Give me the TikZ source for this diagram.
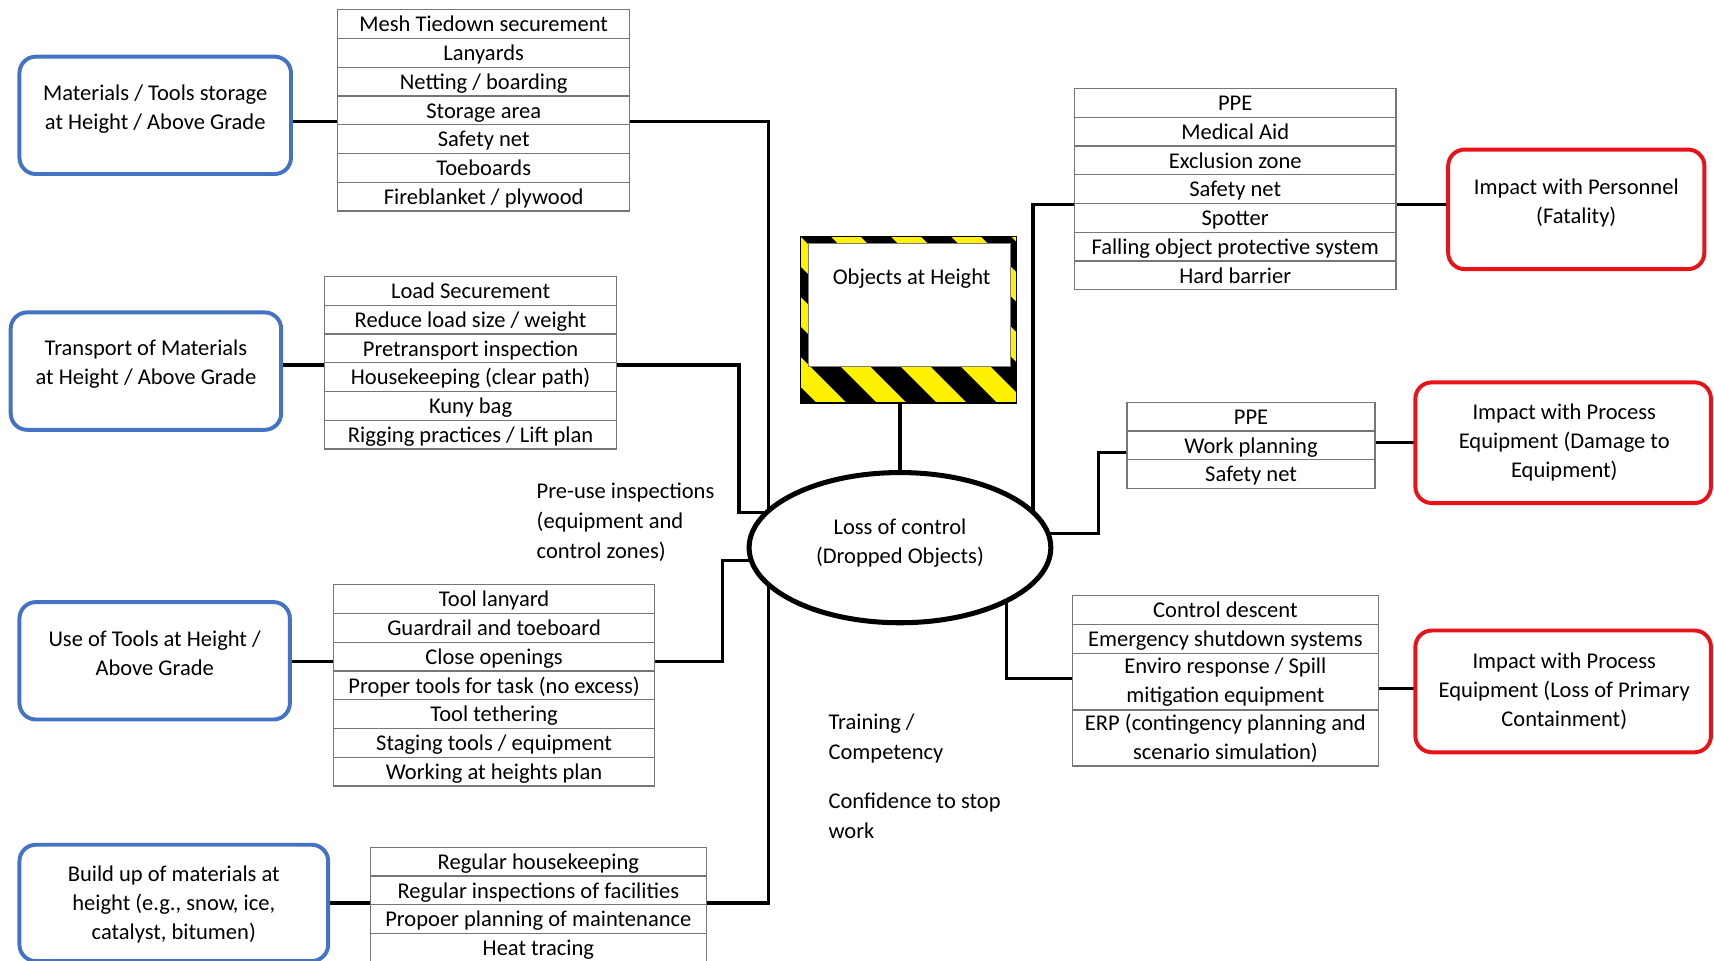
\documentclass[tikz,border=0pt]{standalone}
\usepackage{fontspec}
\setmainfont{Carlito}
\usetikzlibrary{shapes.geometric,backgrounds,fit}

\definecolor{boxblue}{RGB}{68,114,196}
\definecolor{boxred}{RGB}{232,18,24}
\definecolor{hazyellow}{RGB}{255,242,0}
\definecolor{cellgray}{RGB}{118,118,118}

% A column of equal-height control cells: name, left x, top y, width, entries
\newcommand\rowstack[5]{%
  \foreach \txt [count=\i] in {#5} {%
    \node[row, minimum width=#4, anchor=north west] (#1-\i) at (#2, {#3+(\i-1)*26.3}) {\txt};
    \xdef\lastrow{\i}%
  }%
  \node[fit=(#1-1)(#1-\lastrow)] (#1) {};%
}

\begin{document}
\begin{tikzpicture}[x=0.5pt, y=-0.5pt,
  every node/.style={font=\fontsize{10.3}{13.25}\selectfont, inner sep=0pt, outer sep=0pt},
  cell/.style={draw=cellgray, line width=0.6pt, fill=white, align=center, minimum height=13.15pt},
  row/.style={cell, text height=8.3pt, text depth=1.2pt},
  causebox/.style={draw=boxblue, line width=1.8pt, rounded corners=7.5pt},
  effectbox/.style={draw=boxred, line width=1.8pt, rounded corners=7.5pt},
  boxtext/.style={align=center},
  note/.style={align=left, anchor=west, font=\fontsize{10.3}{13.7}\selectfont},
  conn/.style={line width=1.5pt},
]
\useasboundingbox (0,0) rectangle (1568,879);

% ---- causes (left) ----
\node[causebox, minimum width=124.2pt, minimum height=53.7pt] (b1) at (142,105.5) {};
\node[boxtext] (b1-text) at (142,99.5) {Materials / Tools storage\\at Height / Above Grade};
\node[causebox, minimum width=123.7pt, minimum height=53.7pt] (b2) at (133.5,339.5) {};
\node[boxtext] (b2-text) at (133.5,333.5) {Transport of Materials\\at Height / Above Grade};
\node[causebox, minimum width=123.7pt, minimum height=53.7pt] (b3) at (141.5,604.5) {};
\node[boxtext] (b3-text) at (141.5,598) {Use of Tools at Height /\\Above Grade};
\node[causebox, minimum width=141.2pt, minimum height=53.2pt] (b4) at (159,826) {};
\node[boxtext] (b4-text) at (159,827.5) {Build up of materials at\\height (e.g., snow, ice,\\catalyst, bitumen)};

% ---- consequences (right) ----
\node[effectbox, minimum width=117.2pt, minimum height=54.7pt] (r1) at (1442,191.5) {};
\node[boxtext] (r1-text) at (1442,186) {Impact with Personnel\\(Fatality)};
\node[effectbox, minimum width=135.2pt, minimum height=55.2pt] (r2) at (1430,405) {};
\node[boxtext] (r2-text) at (1431,404.5) {Impact with Process\\Equipment (Damage to\\Equipment)};
\node[effectbox, minimum width=135.2pt, minimum height=55.7pt] (r3) at (1430,632.5) {};
\node[boxtext] (r3-text) at (1431,632.5) {Impact with Process\\Equipment (Loss of Primary\\Containment)};

% ---- preventive barriers ----
\rowstack{t1}{309}{9}{133.5pt}{Mesh Tiedown securement,Lanyards,Netting / boarding,Storage area,Safety net,Toeboards,Fireblanket / plywood}
\rowstack{t2}{297}{253}{133.5pt}{Load Securement,Reduce load size / weight,Pretransport inspection,Housekeeping (clear path),Kuny bag,Rigging practices / Lift plan}
\rowstack{t3}{305}{535}{147pt}{Tool lanyard,Guardrail and toeboard,Close openings,Proper tools for task (no excess),Tool tethering,Staging tools / equipment,Working at heights plan}
\rowstack{t4}{339}{775}{153.5pt}{Regular housekeeping,Regular inspections of facilities,Propoer planning of maintenance,Heat tracing}

% ---- mitigating barriers ----
\rowstack{t5}{983}{81}{147pt}{PPE,Medical Aid,Exclusion zone,Safety net,Spotter,Falling object protective system,Hard barrier}
\rowstack{t6}{1031}{368}{113.5pt}{PPE,Work planning,Safety net}
\node[row, minimum width=140pt, anchor=north west] (t7-1) at (981,545) {Control descent};
\node[row, minimum width=140pt, anchor=north] (t7-2) at (t7-1.south) {Emergency shutdown systems};
\node[cell, minimum width=140pt, minimum height=26pt, anchor=north] (t7-3) at (t7-2.south) {Enviro response / Spill\\mitigation equipment};
\node[cell, minimum width=140pt, minimum height=25.5pt, anchor=north] (t7-4) at (t7-3.south) {ERP (contingency planning and\\scenario simulation)};
\node[fit=(t7-1)(t7-4)] (t7) {};

% ---- hazard sign ----
\begin{scope}
  \clip (732.5,216.5) rectangle (930,368.8);
  \fill[hazyellow] (732.5,216.5) rectangle (930,368.8);
  \foreach \k in {-3,...,4}
    \fill[black] ({732.5+\k*55},216.5) -- ++(27.5,0) -- ++(153,153) -- ++(-27.5,0) -- cycle;
\end{scope}
\node[draw=black, line width=0.6pt, minimum width=98.75pt, minimum height=76.15pt] (sign) at (831.25,292.65) {};
\node[draw=gray, line width=0.4pt, fill=white, minimum width=92.25pt, minimum height=56.25pt] (signface) at (831.75,279.25) {};
\node (sign-text) at (834,255) {Objects at Height};

% ---- top event ----
\node[draw, ellipse, line width=2.3pt, fill=white, minimum width=138pt, minimum height=68.7pt] (e) at (823.3,501) {};
\node[boxtext] (e-text) at (823.3,496.5) {Loss of control\\(Dropped Objects)};

% ---- loose notes ----
\node[note] (n1) at (491,478) {Pre-use inspections\\(equipment and\\control zones)};
\node[note] (n2) at (758,676) {Training /\\Competency};
\node[note] (n3) at (758,746) {Confidence to stop\\work};

% ---- connector levels and bends ----
\coordinate (h1) at (0,111);
\coordinate (h2) at (0,334);
\coordinate (h3) at (0,605);
\coordinate (h4) at (0,826);
\coordinate (h5) at (0,187);
\coordinate (h6l) at (0,414);
\coordinate (h6r) at (0,405);
\coordinate (h7l) at (0,621);
\coordinate (h7r) at (0,630);
\coordinate (jL1) at (703,501);
\coordinate (jL2) at (676,469);
\coordinate (jL3) at (661,513);
\coordinate (jR1) at (945,501);
\coordinate (jR2) at (1005,488);
\coordinate (jR3) at (921,501);

\begin{scope}[on background layer]
  \draw[conn] (b1.east |- h1) -- (t1.west |- h1);
  \draw[conn] (t1.east |- h1) -| (jL1);
  \draw[conn] (b2.east |- h2) -- (t2.west |- h2);
  \draw[conn] (t2.east |- h2) -| (jL2) -- (jL2 -| e.center);
  \draw[conn] (b3.east |- h3) -- (t3.west |- h3);
  \draw[conn] (t3.east |- h3) -| (jL3) -- (jL3 -| e.center);
  \draw[conn] (b4.east |- h4) -- (t4.west |- h4);
  \draw[conn] (t4.east |- h4) -| (jL1);
  \draw[conn] (t5.west |- h5) -| (jR1);
  \draw[conn] (t5.east |- h5) -- (r1.west |- h5);
  \draw[conn] (t6.west |- h6l) -| (jR2) -- (jR2 -| e.center);
  \draw[conn] (t6.east |- h6r) -- (r2.west |- h6r);
  \draw[conn] (t7.west |- h7l) -| (jR3);
  \draw[conn] (t7.east |- h7r) -- (r3.west |- h7r);
  \draw[conn] (e.center |- sign.south) -- (e.center);
\end{scope}
\end{tikzpicture}
\end{document}
